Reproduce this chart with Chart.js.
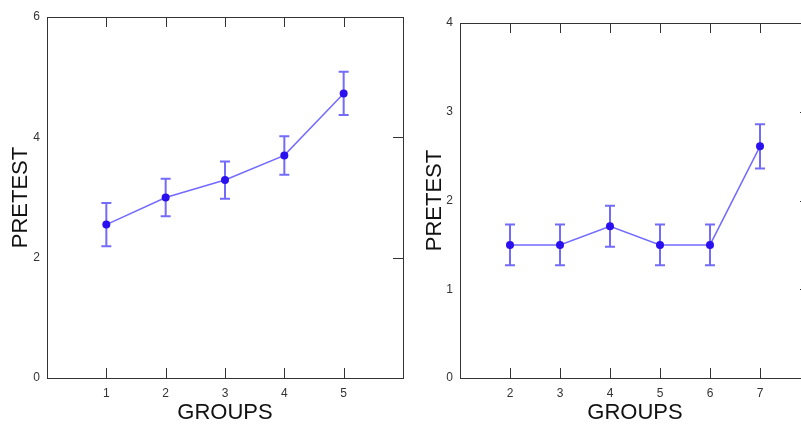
<!DOCTYPE html>
<html>
<head>
<meta charset="utf-8">
<script src="https://cdn.jsdelivr.net/npm/chart.js@4/dist/chart.umd.min.js"></script>
<style>
    html, body { margin: 0; padding: 0; background: #fff; overflow: hidden; width: 801px; height: 424px; }
    canvas { position: absolute; top: 0; }
    #left { left: 0; }
    #right { left: 420px; }
</style>
</head>
<body>
<canvas id="left" width="420" height="424"></canvas>
<canvas id="right" width="400" height="424"></canvas>
<script>
// pretest means per group, with +/- error
const leftGroups = [1, 2, 3, 4, 5];
const leftMeans = [2.55, 3.0, 3.29, 3.70, 4.73];
const leftErrors = [0.36, 0.31, 0.31, 0.32, 0.36];
const leftYTicks = [0, 2, 4, 6];

const rightGroups = [2, 3, 4, 5, 6, 7];
const rightMeans = [1.5, 1.5, 1.71, 1.5, 1.5, 2.61];
const rightErrors = [0.23, 0.23, 0.23, 0.23, 0.23, 0.25];
const rightYTicks = [0, 1, 2, 3, 4];

const AXIS_COLOR = '#333';
const FONT = '"Liberation Sans", Arial, sans-serif';

// box frame with inward tick marks
const framePlugin = {
    id: 'frame',
    afterDraw(chart, args, opts) {
        const { ctx, chartArea: a, scales: { x, y } } = chart;
        ctx.save();
        ctx.strokeStyle = AXIS_COLOR;
        ctx.lineWidth = 1;
        ctx.strokeRect(Math.round(a.left) + 0.5, Math.round(a.top) + 0.5,
            Math.round(a.right - a.left), Math.round(a.bottom - a.top));
        ctx.beginPath();
        opts.groups.forEach((g) => {
            const px = Math.round(x.getPixelForValue(g)) + 0.5;
            ctx.moveTo(px, a.top);
            ctx.lineTo(px, a.top + 10);
            ctx.moveTo(px, a.bottom);
            ctx.lineTo(px, a.bottom - 10);
        });
        opts.yTicks.slice(1, -1).forEach((v) => {
            const py = Math.round(y.getPixelForValue(v)) + 0.5;
            ctx.moveTo(a.right, py);
            ctx.lineTo(a.right - 10, py);
        });
        ctx.stroke();
        ctx.restore();
    },
};

// vertical error bars with caps
const errorBarPlugin = {
    id: 'errorBars',
    beforeDatasetsDraw(chart, args, opts) {
        const { ctx, scales: { x, y } } = chart;
        ctx.save();
        ctx.strokeStyle = 'rgba(80, 70, 250, 0.8)';
        ctx.lineWidth = 2;
        ctx.beginPath();
        opts.groups.forEach((g, i) => {
            const px = x.getPixelForValue(g);
            const top = y.getPixelForValue(opts.means[i] + opts.errors[i]);
            const bot = y.getPixelForValue(opts.means[i] - opts.errors[i]);
            ctx.moveTo(px, top);
            ctx.lineTo(px, bot);
            ctx.moveTo(px - 5, top);
            ctx.lineTo(px + 5, top);
            ctx.moveTo(px - 5, bot);
            ctx.lineTo(px + 5, bot);
        });
        ctx.stroke();
        ctx.restore();
    },
};

function makeChart(id, cfg) {
    const tickFont = { family: FONT, size: 12 };
    const titleFont = { family: FONT, size: 22, lineHeight: 1 };
    return new Chart(document.getElementById(id), {
        type: 'line',
        data: {
            datasets: [{
                data: cfg.groups.map((g, i) => ({ x: g, y: cfg.means[i] })),
                borderColor: 'rgba(100, 90, 255, 0.9)',
                borderWidth: 1.5,
                pointBackgroundColor: '#2a10ee',
                pointBorderWidth: 0,
                pointRadius: 4,
                tension: 0,
                fill: false,
            }],
        },
        options: {
            responsive: false,
            animation: false,
            devicePixelRatio: 1,
            layout: { padding: cfg.padding },
            plugins: {
                legend: { display: false },
                tooltip: { enabled: false },
                frame: { groups: cfg.groups, yTicks: cfg.yTicks },
                errorBars: { groups: cfg.groups, means: cfg.means, errors: cfg.errors },
            },
            scales: {
                x: {
                    type: 'linear',
                    min: cfg.xMin,
                    max: cfg.xMax,
                    afterBuildTicks(axis) {
                        axis.ticks = cfg.groups.map((g) => ({ value: g }));
                    },
                    afterFit(axis) {
                        axis.height = 46;
                    },
                    grid: { display: false, drawTicks: false },
                    border: { display: false },
                    ticks: { padding: 8, font: tickFont, color: AXIS_COLOR, callback: (v) => String(v) },
                    title: { display: true, text: 'GROUPS', font: titleFont, color: '#111', padding: 0 },
                },
                y: {
                    min: cfg.yTicks[0],
                    max: cfg.yTicks[cfg.yTicks.length - 1],
                    afterBuildTicks(axis) {
                        axis.ticks = cfg.yTicks.map((v) => ({ value: v }));
                    },
                    afterFit(axis) {
                        axis.width = cfg.yWidth;
                    },
                    grid: { display: false, drawTicks: false },
                    border: { display: false },
                    ticks: { padding: 7, font: tickFont, color: AXIS_COLOR },
                    title: { display: true, text: 'PRETEST', font: titleFont, color: '#111', padding: { top: cfg.titlePad, bottom: 0 } },
                },
            },
        },
        plugins: [errorBarPlugin, framePlugin],
    });
}

makeChart('left', {
    groups: leftGroups, means: leftMeans, errors: leftErrors, yTicks: leftYTicks,
    xMin: 0, xMax: 6, yWidth: 47, titlePad: 10,
    padding: { top: 17, right: 17, left: 0, bottom: 0 },
});

makeChart('right', {
    groups: rightGroups, means: rightMeans, errors: rightErrors, yTicks: rightYTicks,
    xMin: 1, xMax: 8, yWidth: 40, titlePad: 4,
    padding: { top: 23, right: 10, left: 0, bottom: 0 },
});
</script>
</body>
</html>
